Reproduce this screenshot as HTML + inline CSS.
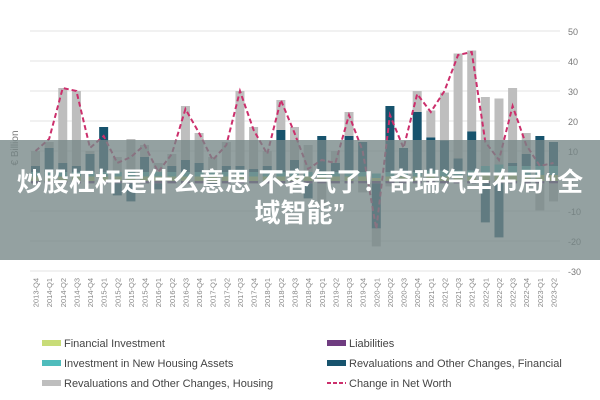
<!DOCTYPE html>
<html><head><meta charset="utf-8"><style>
body{margin:0;width:600px;height:400px;overflow:hidden;background:#fff;font-family:"Liberation Sans",sans-serif;position:relative}
svg{position:absolute;left:0;top:0}
#overlay{position:absolute;left:0;top:140px;width:600px;height:120px;background:rgba(118,134,134,0.78);color:#fff;font-family:"Liberation Sans","Noto Sans CJK SC",sans-serif;font-weight:bold;font-size:26px;text-align:center;line-height:31px;padding-top:27px;box-sizing:border-box;white-space:nowrap}
</style></head><body>
<svg id="chart" width="600" height="400"></svg>
<div id="overlay">炒股杠杆是什么意思 不客气了！奇瑞汽车布局“全<br>域智能”</div>
<script>
const categories=["2013-Q4","2014-Q1","2014-Q2","2014-Q3","2014-Q4","2015-Q1","2015-Q2","2015-Q3","2015-Q4","2016-Q1","2016-Q2","2016-Q3","2016-Q4","2017-Q1","2017-Q2","2017-Q3","2017-Q4","2018-Q1","2018-Q2","2018-Q3","2018-Q4","2019-Q1","2019-Q2","2019-Q3","2019-Q4","2020-Q1","2020-Q2","2020-Q3","2020-Q4","2021-Q1","2021-Q2","2021-Q3","2021-Q4","2022-Q1","2022-Q2","2022-Q3","2022-Q4","2023-Q1","2023-Q2"];
const financialInvestment=[1.5,1.5,1.5,1.5,1.5,1.5,1.5,1.5,1.5,1.5,1.5,1.5,1.5,1.5,1.5,1.5,1.5,1.5,1.5,1.5,1.5,1.5,1.5,1.5,1.5,1,1.5,1.5,1.5,1.5,1.5,1.5,1.5,2,2.5,2,2,2,2];
const housingInvestment=[1.5,1.5,1.5,1.5,1.5,1.5,1.5,1.5,1.5,1.5,1.5,1.5,1.5,1.5,1.5,1.5,1.5,1.5,1.5,1.5,1.5,1.5,1.5,1.5,1.5,1.5,1.5,1.5,1.5,2,2,2,2,3,3,3,3,3,3];
const liabilities=[-0.8,-0.8,-0.8,-0.8,-0.8,-0.8,-0.8,-0.8,-0.8,-0.8,-0.8,-0.8,-0.8,-0.8,-0.8,-0.8,-0.8,-0.8,-0.8,-0.8,-0.8,-0.8,-0.8,-0.8,-0.8,-0.8,-0.8,-0.8,-0.8,-0.8,-0.8,-0.8,-0.8,-0.8,-0.8,-0.8,-0.8,-0.8,-0.8];
const revalFinancial=[2,8,3,2,6,15,-4,-6,5,-2,2,4,3,-1,2,2,1,2,14,4,-5,12,3,12,10,-15,22,8,20,11,10,4,13,-13,-18,1,4,10,8];
const revalHousing=[5,2,25,25,1,0,5,11,4,3,4,18,10,5,8,25,14,5,10,11,9,-8,4,8,-3,-6,-1,0,7,9,16,35,27,23,22,25,7,-9,-6];
const netWorth=[10,14,31,30,11,15,6,8,12,3,9,24,16,7,12,30,17,9,27,16,4,7,6,22,10,-16,22,11,29,23,30,42,43,13,7,25,12,5,6];
const yTicks=[50,40,30,20,10,0,-10,-20,-30];

const NS="http://www.w3.org/2000/svg";
const svg=document.getElementById('chart');
const x0=30,x1=560;
const yS=v=>181-v*3;
const step=(553.5-35.5)/(categories.length-1);
const xS=i=>35.5+i*step;
function mk(t,a,p){const e=document.createElementNS(NS,t);for(const k in a)e.setAttribute(k,a[k]);(p||svg).appendChild(e);return e;}
yTicks.forEach(v=>{
  const g=mk('line',{x1:x0,x2:x1,y1:yS(v),y2:yS(v),stroke:'#e3e3e3','stroke-width':1});
  
  
  const t=mk('text',{x:568,y:yS(v)+4,'font-size':9,fill:'#777'});
  t.textContent=v;
  
  
});
const yt=mk('text',{x:0,y:0,'font-size':10,fill:'#777',transform:'translate(18,148) rotate(-90)','text-anchor':'middle'});
yt.textContent='€ Billion';


const series=[[financialInvestment,'#c8dc78'],[housingInvestment,'#4fbcbc'],[liabilities,'#6f3c80'],[revalFinancial,'#17536d'],[revalHousing,'#bebebe']];
categories.forEach((c,i)=>{
  let pos=0,neg=0;
  series.forEach(([arr,col])=>{
    const v=arr[i];let a,b;
    if(v>=0){a=pos;b=pos+v;pos=b;}else{a=neg;b=neg+v;neg=b;}
    const r=mk('rect',{x:xS(i)-4.5,width:9,y:Math.min(yS(a),yS(b)),height:Math.abs(yS(a)-yS(b)),fill:col});
    
    
  });
  const t=mk('text',{x:0,y:0,'font-size':7.5,fill:'#888','text-anchor':'end',transform:`translate(${xS(i)+3},278) rotate(-90)`});
  t.textContent=c;
  
  
});
const pl=mk('polyline',{points:netWorth.map((v,i)=>xS(i)+','+yS(v)).join(' '),fill:'none',stroke:'#cc2f6c','stroke-width':2,'stroke-dasharray':'5,3'});


const legend=[['Financial Investment','#c8dc78',42,343],['Liabilities','#6f3c80',327,343],['Investment in New Housing Assets','#4fbcbc',42,363],['Revaluations and Other Changes, Financial','#17536d',327,363],['Revaluations and Other Changes, Housing','#bebebe',42,383],['Change in Net Worth','line',327,383]];
legend.forEach(([n,col,x,y])=>{
  if(col==='line'){const l=mk('line',{x1:x,x2:x+19,y1:y,y2:y,stroke:'#cc2f6c','stroke-width':2,'stroke-dasharray':'4,2'});}
  else{const r=mk('rect',{x:x,y:y-3,width:19,height:6,fill:col});}
  const t=mk('text',{x:x+22,y:y+4,'font-size':11,fill:'#444'});
  t.textContent=n;
  
  
});
</script>
</body></html>
